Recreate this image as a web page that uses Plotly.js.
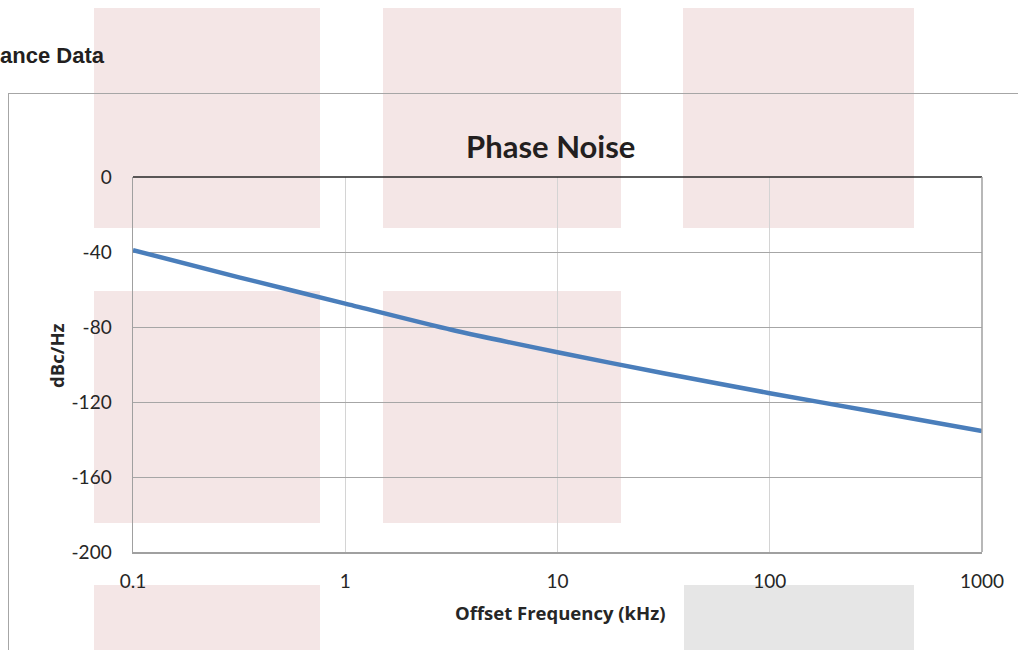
<!DOCTYPE html>
<html>
<head>
<meta charset="utf-8">
<script src="https://cdn.plot.ly/plotly-3.0.1.min.js"></script>
<style>
  html, body { margin: 0; padding: 0; background: #ffffff; }
  #wrap { position: relative; width: 1018px; height: 650px; overflow: hidden; background: #ffffff; }
  .bg { position: absolute; background: #f4e6e6; }
  .bg.grey { background: #e6e6e6; }
  #frame { position: absolute; left: 8px; top: 93px; width: 1030px; height: 600px; border: 1px solid #a6a6a6; box-sizing: border-box; }
  #head { position: absolute; left: 0px; top: 45px; font-family: "Liberation Sans", Arial, sans-serif; font-weight: bold; font-size: 22px; line-height: 22px; color: #231f20; white-space: nowrap; }
  #chart { position: absolute; left: 0; top: 0; width: 1018px; height: 650px; }
</style>
</head>
<body>
<div id="wrap">
  <div class="bg" style="left:94px;top:8px;width:226px;height:220px;"></div>
  <div class="bg" style="left:383px;top:8px;width:238px;height:220px;"></div>
  <div class="bg" style="left:683px;top:8px;width:231px;height:220px;"></div>
  <div class="bg" style="left:94px;top:291px;width:226px;height:232px;"></div>
  <div class="bg" style="left:383px;top:291px;width:238px;height:232px;"></div>
  <div class="bg" style="left:94px;top:585px;width:226px;height:80px;"></div>
  <div class="bg grey" style="left:684px;top:585px;width:230px;height:80px;"></div>
  <div id="frame"></div>
  <div id="head">ance Data</div>
  <div id="chart"></div>
</div>
<script>
// Data
const offsetFreqKHz = [0.1, 0.316, 1, 3.16, 10, 31.6, 100, 316, 1000];
const phaseNoiseDbcHz = [-39, -53.5, -67.5, -81.5, -93.5, -104.7, -115.3, -125.3, -135.5];
const xTickVals = [0.1, 1, 10, 100, 1000];
const xTickText = ["0.1", "1", "10", "100", "1000"];
const yTickVals = [0, -40, -80, -120, -160, -200];
const yTickText = ["0", "-40", "-80", "-120", "-160", "-200"];
const xTitle = "Offset Frequency (kHz)";
const yTitle = "dBc/Hz";

const tickFont = { family: "Lato, 'Open Sans', sans-serif", size: 19, color: "#262626" };
const titleFont = { family: "'Open Sans', Lato, sans-serif", size: 18.5, color: "#262626", weight: "bold" };

const trace = {
  x: offsetFreqKHz,
  y: phaseNoiseDbcHz,
  type: "scatter",
  mode: "lines",
  line: { color: "#4a7ebb", width: 4.5, shape: "spline", smoothing: 0.6 },
  hoverinfo: "x+y"
};

const layout = {
  width: 1018,
  height: 650,
  margin: { l: 133, r: 36, t: 177, b: 98 },
  paper_bgcolor: "rgba(0,0,0,0)",
  plot_bgcolor: "rgba(0,0,0,0)",
  showlegend: false,
  title: {
    text: "<b>Phase Noise</b>",
    font: { family: "Lato, 'Open Sans', sans-serif", size: 31, color: "#231f20" },
    x: 0.541, xanchor: "center",
    y: 1 - 147 / 650, yanchor: "middle"
  },
  xaxis: {
    type: "log",
    range: [-1, 3],
    tickvals: xTickVals,
    ticktext: xTickText,
    showgrid: true,
    gridcolor: "#d4d4d4",
    gridwidth: 1,
    showline: true,
    linecolor: "#a0a0a0",
    linewidth: 1.5,
    ticks: "",
    ticklabelstandoff: 12,
    tickfont: tickFont,
    zeroline: false
  },
  yaxis: {
    range: [-200, 0],
    tickvals: yTickVals,
    ticktext: yTickText,
    showgrid: true,
    gridcolor: "#a6a6a6",
    gridwidth: 1,
    showline: true,
    linecolor: "#a0a0a0",
    linewidth: 1.5,
    ticks: "",
    ticklabelstandoff: 16,
    tickfont: tickFont,
    zeroline: false
  },
  annotations: [
    { text: "<b>" + xTitle + "</b>", xref: "paper", yref: "paper",
      x: 0.503, y: -0.16, xanchor: "center", yanchor: "middle",
      showarrow: false, font: titleFont },
    { text: "<b>" + yTitle + "</b>", xref: "paper", yref: "paper",
      x: -0.0895, y: 0.523, xanchor: "center", yanchor: "middle", textangle: -90,
      showarrow: false, font: titleFont }
  ],
  shapes: [
    { type: "line", xref: "paper", yref: "paper", x0: 0, x1: 1, y0: 1, y1: 1,
      line: { color: "#262626", width: 1.5 } },
    { type: "line", xref: "paper", yref: "paper", x0: 1, x1: 1, y0: 0, y1: 1,
      line: { color: "#a0a0a0", width: 1.5 } }
  ]
};

Plotly.newPlot("chart", [trace], layout, { displayModeBar: false, staticPlot: true });
</script>
</body>
</html>
